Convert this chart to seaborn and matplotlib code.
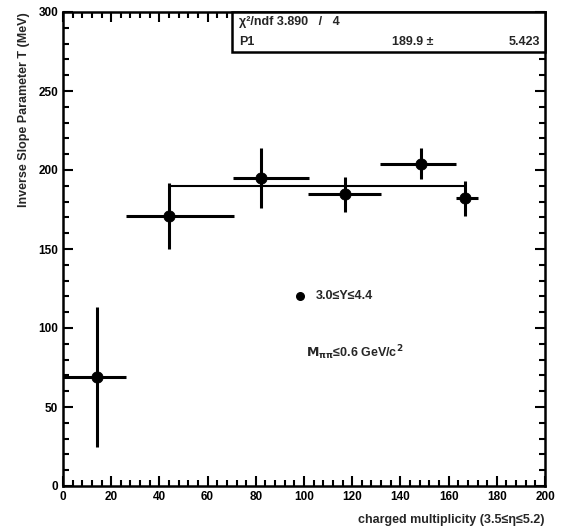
import matplotlib
matplotlib.use("Agg")
import matplotlib.pyplot as plt
import seaborn as sns
import numpy as np
import pandas as pd
from matplotlib.ticker import MultipleLocator

# data
mult = [14, 44, 82, 117, 148.5, 167]
mult_lo = [14, 18, 11.5, 15.5, 17, 4]
mult_hi = [12, 27, 20, 15, 14.5, 5]
slope_T = [69, 171, 195, 184.5, 204, 182]
slope_err = [44, 21, 19, 11, 10, 11]
fit_x = [44, 167]
fit_y = [189.9, 189.9]

sns.set_theme(style="ticks")
plt.rcParams['font.family'] = ['Liberation Sans', 'DejaVu Sans']
plt.rcParams['font.weight'] = 'bold'

fig = plt.figure(figsize=(5.61, 5.29), dpi=100)
ax = fig.add_axes([63/561, 1-486/529, (545-63)/561, (486-12)/529])

df = pd.DataFrame({"mult": mult, "T": slope_T})
ax.errorbar(mult, slope_T, xerr=[mult_lo, mult_hi], yerr=slope_err,
            fmt='none', ecolor='black', elinewidth=2.2, capsize=0, zorder=2)
sns.lineplot(x=fit_x, y=fit_y, color='black', lw=1.5, ax=ax, zorder=3)
sns.scatterplot(data=df, x="mult", y="T", color='black', s=65,
                edgecolor='black', ax=ax, zorder=4)

ax.set_xlim(0, 200)
ax.set_ylim(0, 300)
ax.xaxis.set_major_locator(MultipleLocator(20))
ax.xaxis.set_minor_locator(MultipleLocator(4))
ax.yaxis.set_major_locator(MultipleLocator(50))
ax.yaxis.set_minor_locator(MultipleLocator(10))
ax.tick_params(which='both', direction='in', top=True, right=True,
               labelsize=8.5, width=1.5, colors='black')
ax.tick_params(which='major', length=7)
ax.tick_params(which='minor', length=4)
for sp in ax.spines.values():
    sp.set_linewidth(1.8)
    sp.set_color('black')
for lab in ax.get_xticklabels() + ax.get_yticklabels():
    lab.set_fontweight('bold')

ax.set_xlabel("charged multiplicity (3.5≤η≤5.2)", fontsize=9, fontweight='bold',
              loc='right', labelpad=8)
ax.set_ylabel("Inverse Slope Parameter T (MeV)", fontsize=9, fontweight='bold',
              loc='top', labelpad=6)

# stats box
box_x0 = (232-63)/(545-63)*200
box_y0 = (486-52)/474*300
ax.add_patch(plt.Rectangle((box_x0, box_y0), 200-box_x0, 300-box_y0,
                           fill=True, facecolor='white', edgecolor='black', lw=1.8,
                           zorder=5, clip_on=False))
ax.text(box_x0+3, 293.5, "χ²/ndf 3.890   /   4", fontsize=9, fontweight='bold',
        va='center', ha='left', zorder=6)
ax.text(box_x0+3, 281.0, "P1", fontsize=9, fontweight='bold', va='center', ha='left', zorder=6)
ax.text(145, 281.0, "189.9 ±", fontsize=9, fontweight='bold', va='center', ha='center', zorder=6)
ax.text(198, 281.0, "5.423", fontsize=9, fontweight='bold', va='center', ha='right', zorder=6)

# legend-like annotations
ax.scatter([98.5], [120], color='black', s=30, marker='o', zorder=4)
ax.text(105, 120, "3.0≤Y≤4.4", fontsize=9, fontweight='bold', va='center', ha='left')
ax.text(101, 84.5, r"$\mathbf{M_{\pi\pi}}$≤0.6 GeV/c$^\mathbf{2}$", fontsize=9,
        fontweight='bold', va='center', ha='left')

fig.savefig("out.png", dpi=100)
